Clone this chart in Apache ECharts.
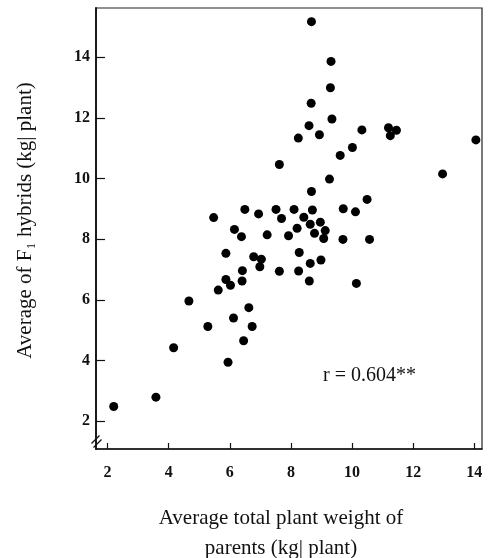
<!DOCTYPE html>
<html lang="en">
<head>
    <meta charset="UTF-8">
    <title>F1 hybrids vs parents</title>
    <script src="https://cdn.jsdelivr.net/npm/echarts@6/dist/echarts.min.js"></script>
    <style>
        html, body { margin: 0; padding: 0; background: #fff; }
        #main { width: 495px; height: 558px; }
    </style>
</head>
<body>
    <div id="main"></div>
    <script>
        // parents' average total plant weight (kg/plant)
        var parentWeight = [
            8.67, 9.31, 9.29, 8.66, 9.34, 8.59, 8.24, 8.93, 10.32, 11.19,
            11.25, 11.45, 14.05, 9.61, 10.01, 12.96, 9.26, 8.67, 7.62, 10.49,
            8.10, 8.70, 9.71, 10.11, 7.69, 8.42, 8.63, 8.96, 8.20, 9.12,
            7.92, 8.77, 9.07, 9.70, 10.57, 8.27, 8.63, 8.98, 7.62, 8.25,
            8.60, 10.14, 5.47, 6.49, 6.94, 7.51, 6.15, 6.38, 7.22, 5.87,
            6.78, 7.03, 6.98, 6.41, 5.87, 6.02, 6.40, 5.62, 4.66, 6.62,
            6.12, 5.28, 6.73, 6.45, 4.16, 5.94, 3.58, 2.20
        ];
        // average of F1 hybrids (kg/plant)
        var hybridWeight = [
            15.17, 13.86, 12.99, 12.48, 11.96, 11.74, 11.33, 11.44, 11.60, 11.67,
            11.41, 11.59, 11.27, 10.76, 11.02, 10.15, 9.98, 9.57, 10.46, 9.31,
            8.98, 8.96, 9.00, 8.90, 8.68, 8.72, 8.49, 8.56, 8.36, 8.28,
            8.11, 8.19, 8.02, 7.99, 7.99, 7.56, 7.20, 7.31, 6.94, 6.95,
            6.62, 6.54, 8.71, 8.98, 8.83, 8.98, 8.32, 8.08, 8.14, 7.53,
            7.42, 7.34, 7.09, 6.96, 6.67, 6.48, 6.62, 6.32, 5.96, 5.74,
            5.40, 5.12, 5.12, 4.65, 4.42, 3.94, 2.79, 2.48
        ];
        var xTicks = [2, 4, 6, 8, 10, 12, 14];
        var yTicks = [2, 4, 6, 8, 10, 12, 14];
        var rLabel = 'r = 0.604**';

        var points = parentWeight.map(function (x, i) { return [x, hybridWeight[i]]; });
        var serif = '"Liberation Serif", "DejaVu Serif", serif';

        var chart = echarts.init(document.getElementById('main'));
        chart.setOption({
            animation: false,
            backgroundColor: '#fff',
            grid: {
                left: 96, right: 13, top: 8, bottom: 109,
                outerBoundsMode: 'none',
                show: true, borderColor: '#222', borderWidth: 1.2
            },
            xAxis: {
                type: 'value',
                min: 1.62, max: 14.25,
                name: 'Average total plant weight of\nparents (kg| plant)',
                nameLocation: 'middle',
                nameGap: 54,
                nameTextStyle: { fontFamily: serif, fontSize: 21, color: '#111', lineHeight: 30, padding: [0, 16, 0, 0] },
                axisLine: { lineStyle: { color: '#111', width: 1.6 } },
                axisTick: { inside: true, length: 6, customValues: xTicks, lineStyle: { color: '#111', width: 1.2 } },
                axisLabel: {
                    customValues: xTicks, margin: 16,
                    fontFamily: serif, fontSize: 16, fontWeight: 'bold', color: '#111'
                },
                splitLine: { show: false }
            },
            yAxis: {
                type: 'value',
                min: 1.08, max: 15.62,
                name: 'Average of F\u2081 hybrids (kg| plant)',
                nameLocation: 'middle',
                nameGap: 60,
                nameTextStyle: { fontFamily: serif, fontSize: 21, color: '#111', padding: [0, 0, 0, 16] },
                axisLine: { lineStyle: { color: '#111', width: 1.8 } },
                axisTick: { inside: true, length: 9, customValues: yTicks, lineStyle: { color: '#111', width: 1.2 } },
                axisLabel: {
                    customValues: yTicks, margin: 6,
                    fontFamily: serif, fontSize: 16, fontWeight: 'bold', color: '#111'
                },
                splitLine: { show: false }
            },
            graphic: [
                {
                    type: 'text', left: 323, top: 366,
                    style: { text: rLabel, font: '20px ' + serif, fill: '#111' }
                },
                {
                    type: 'group', left: 89, top: 433,
                    children: [
                        { type: 'line', shape: { x1: 0, y1: 8, x2: 8, y2: 0 }, style: { stroke: '#111', lineWidth: 1.2 } },
                        { type: 'line', shape: { x1: 2, y1: 12, x2: 10, y2: 4 }, style: { stroke: '#111', lineWidth: 1.2 } }
                    ]
                }
            ],
            series: [{
                type: 'scatter',
                data: points,
                symbol: 'circle',
                symbolSize: 9,
                itemStyle: { color: '#000', opacity: 1 }
            }]
        });
    </script>
</body>
</html>
